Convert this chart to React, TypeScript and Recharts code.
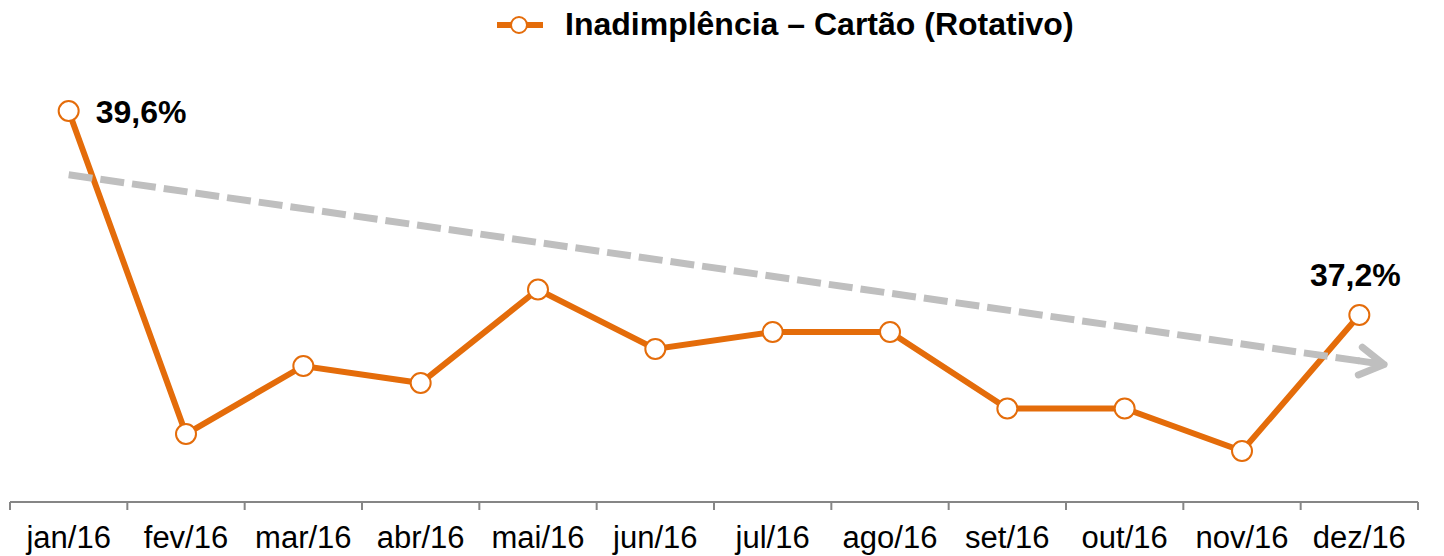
import React from "react";
import { LineChart, Line, XAxis, YAxis, Legend, LabelList } from "recharts";

const months = ["jan/16", "fev/16", "mar/16", "abr/16", "mai/16", "jun/16", "jul/16", "ago/16", "set/16", "out/16", "nov/16", "dez/16"];
const rotativo = [39.6, 35.8, 36.6, 36.4, 37.5, 36.8, 37.0, 37.0, 36.1, 36.1, 35.6, 37.2];
const trend = [38.85, null, null, null, null, null, null, null, null, null, null, 36.66];
const labeled = [0, 11];

const orange = "#E46C0A";
const gray = "#BFBFBF";
const axisGray = "#868686";

const data = months.map((m, i) => ({ month: m, rotativo: rotativo[i], trend: trend[i] }));

const W = 1444;
const H = 556;
const left = 10;
const right = 26;
const halfBand = (W - left - right) / months.length / 2;

function MonthTick(props: any) {
  const { x, y, payload, index } = props;
  return (
    <g>
      <line x1={x - halfBand} x2={x - halfBand} y1={y - 8} y2={y} stroke={axisGray} strokeWidth={2} />
      {index === months.length - 1 && (
        <line x1={x + halfBand} x2={x + halfBand} y1={y - 8} y2={y} stroke={axisGray} strokeWidth={2} />
      )}
      <text x={x} y={y + 38} textAnchor="middle" fontSize={31} fill="#000" fontFamily="Liberation Sans, Arial, sans-serif">
        {payload.value}
      </text>
    </g>
  );
}

function ValueLabel(props: any) {
  const { x, y, value, index } = props;
  if (!labeled.includes(index)) return null;
  const txt = value.toFixed(1).replace(".", ",") + "%";
  const first = index === 0;
  return (
    <text
      x={first ? x + 27 : x - 4}
      y={first ? y + 12 : y - 29}
      textAnchor={first ? "start" : "middle"}
      fontSize={32}
      fontWeight="bold"
      fill="#000"
      fontFamily="Liberation Sans, Arial, sans-serif"
    >
      {txt}
    </text>
  );
}

function LegendBox() {
  return (
    <div style={{ display: "flex", alignItems: "center", fontFamily: "Liberation Sans, Arial, sans-serif" }}>
      <svg width={60} height={24}>
        <line x1={0} x2={46} y1={12} y2={12} stroke={orange} strokeWidth={6} />
        <circle cx={22} cy={12} r={8} fill="#fff" stroke={orange} strokeWidth={2} />
      </svg>
      <span style={{ fontSize: 32, fontWeight: "bold", color: "#000", marginLeft: 8 }}>
        Inadimplência – Cartão (Rotativo)
      </span>
    </div>
  );
}

export default function App() {
  return (
    <div style={{ position: "absolute", left: 0, top: 0 }}>
      <LineChart width={W} height={H} data={data} margin={{ top: 23, right: right, bottom: 0, left: left }}>
        <defs>
          <marker id="arrowHead" markerUnits="userSpaceOnUse" markerWidth={60} markerHeight={60} refX={10} refY={30} orient="auto" overflow="visible">
            <path d="M10,30 L35,30 M11,16 L35,30 L11,44" fill="none" stroke={gray} strokeWidth={7} strokeLinecap="round" strokeLinejoin="round" />
          </marker>
        </defs>
        <XAxis
          dataKey="month"
          interval={0}
          tickLine={false}
          padding={{ left: halfBand, right: halfBand }}
          axisLine={{ stroke: axisGray, strokeWidth: 2 }}
          tick={<MonthTick />}
          height={54}
        />
        <YAxis hide domain={[35, 40.2]} />
        <Legend
          verticalAlign="top"
          content={() => <LegendBox />}
          wrapperStyle={{ position: "absolute", top: 6, left: 497, width: "auto" }}
        />
        <Line
          dataKey="rotativo"
          stroke={orange}
          strokeWidth={6}
          dot={{ r: 10, fill: "#fff", stroke: orange, strokeWidth: 2 }}
          activeDot={false}
          isAnimationActive={false}
        >
          <LabelList dataKey="rotativo" content={<ValueLabel />} />
        </Line>
        <Line
          dataKey="trend"
          stroke={gray}
          strokeWidth={7}
          strokeDasharray="24 8"
          connectNulls
          dot={false}
          activeDot={false}
          markerEnd="url(#arrowHead)"
          legendType="none"
          isAnimationActive={false}
        />
      </LineChart>
    </div>
  );
}
